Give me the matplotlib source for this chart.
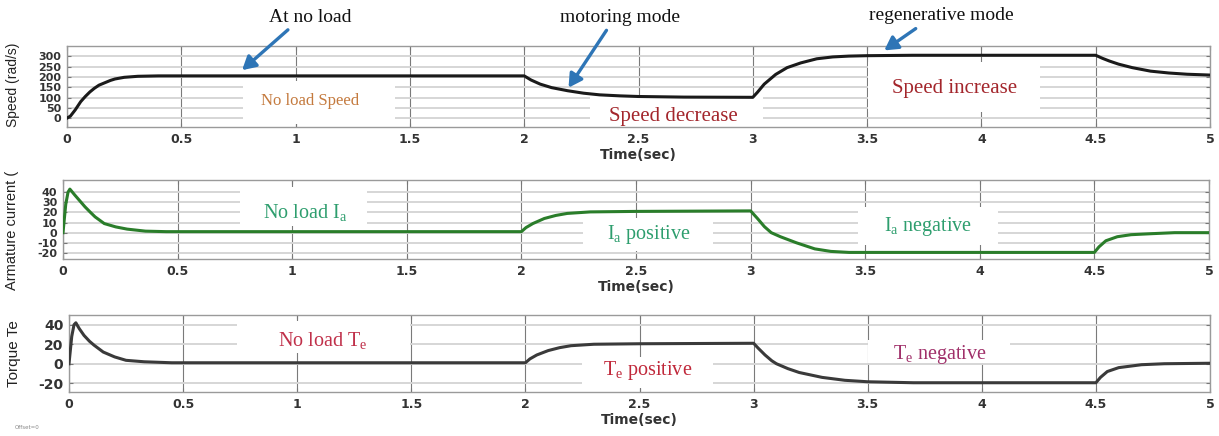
import matplotlib
matplotlib.use("Agg")
import matplotlib.pyplot as plt
from matplotlib.patches import Rectangle, FancyArrowPatch

plt.rcParams['mathtext.fontset'] = 'custom'
plt.rcParams['mathtext.rm'] = 'Liberation Serif'
plt.rcParams['mathtext.it'] = 'Liberation Serif:italic'
plt.rcParams['axes.unicode_minus'] = False

# ---------------- data ----------------
speed_t = [0, 0.015, 0.036, 0.06, 0.08, 0.1, 0.12, 0.14, 0.166, 0.19, 0.21, 0.25, 0.31, 0.4,
           2.0, 2.03, 2.07, 2.12, 2.19, 2.26, 2.33, 2.42, 2.5, 2.7, 3.0,
           3.02, 3.05, 3.1, 3.15, 3.21, 3.28, 3.35, 3.42, 3.5, 3.7, 4.5,
           4.53, 4.56, 4.6, 4.66, 4.74, 4.82, 4.9, 5.0]
speed_v = [0, 10, 40, 80, 105, 127, 145, 160, 172, 183, 190, 198, 203, 205,
           205, 185, 165, 148, 133, 121, 113, 108, 105, 102, 101,
           125, 165, 212, 245, 268, 288, 297, 301, 303, 305, 305,
           290, 277, 262, 245, 228, 219, 213, 209]

current_t = [0, 0.012, 0.022, 0.03, 0.052, 0.075, 0.096, 0.12, 0.14, 0.18, 0.23, 0.28, 0.36, 0.45,
             2.0, 2.02, 2.05, 2.1, 2.15, 2.2, 2.3, 2.5, 3.0,
             3.03, 3.06, 3.09, 3.13, 3.2, 3.28, 3.35, 3.43, 3.6, 4.5,
             4.52, 4.55, 4.6, 4.66, 4.75, 4.85, 5.0]
current_v = [0, 28, 40, 43, 37, 31, 25.5, 20, 15.6, 9, 5.7, 3.5, 1.5, 1,
             1, 5, 9, 14, 17, 19, 20.5, 21, 21.5,
             14, 6, 0, -4, -10, -16, -18.5, -19.5, -19.5, -19.5,
             -14, -8, -4, -2, -1, 0, 0]

torque_t = [0, 0.012, 0.022, 0.03, 0.045, 0.066, 0.09, 0.11, 0.15, 0.2, 0.25, 0.33, 0.45,
            2.0, 2.02, 2.05, 2.1, 2.15, 2.2, 2.3, 2.5, 3.0,
            3.02, 3.05, 3.08, 3.1, 3.15, 3.2, 3.3, 3.4, 3.5, 3.7, 4.5,
            4.52, 4.55, 4.6, 4.7, 4.8, 5.0]
torque_v = [0, 28, 40, 42, 36, 29, 23, 19, 12, 7, 3.5, 2, 1,
            1, 5, 9, 13.5, 16.5, 18.5, 20, 20.5, 21,
            16, 9, 3, 0, -5, -9, -14, -17, -18.5, -19.5, -19.5,
            -14, -8, -4, -1, 0, 0.5]

x_ticks = [0, 0.5, 1, 1.5, 2, 2.5, 3, 3.5, 4, 4.5, 5]
x_ticklabels = ['0', '0.5', '1', '1.5', '2', '2.5', '3', '3.5', '4', '4.5', '5']
speed_ticks = [0, 50, 100, 150, 200, 250, 300]
current_ticks = [-20, -10, 0, 10, 20, 30, 40]
torque_ticks = [-20, 0, 20, 40]

# ---------------- figure ----------------
W, H = 1219, 436
fig = plt.figure(figsize=(W / 100, H / 100), dpi=100)
fig.patch.set_facecolor('white')


def ax_at(left, right, top, bottom):
    return fig.add_axes([left / W, 1 - bottom / H, (right - left) / W, (bottom - top) / H])


def fig_box(ax, x0, y0, x1, y1):
    r = Rectangle((x0 / W, 1 - y1 / H), (x1 - x0) / W, (y1 - y0) / H,
                  transform=fig.transFigure, facecolor='white', edgecolor='none',
                  zorder=1, clip_on=False)
    ax.add_patch(r)


def fig_text(s, x, y, color, size=15):
    fig.text(x / W, 1 - y / H, s, ha='center', va='center', color=color,
             fontsize=size, family=['Liberation Serif', 'DejaVu Serif'], zorder=5)


def style(ax, ylim, yticks, ytick_size, ylabel, label_xy, label_size):
    ax.set_xlim(0, 5)
    ax.set_ylim(*ylim)
    ax.set_xticks(x_ticks)
    ax.set_xticklabels(x_ticklabels)
    ax.set_yticks(yticks)
    ax.set_axisbelow(True)
    ax.grid(axis='y', color='#d6d6d6', lw=1.4)
    ax.grid(axis='x', color='#7a7a7a', lw=0.8)
    for sp in ax.spines.values():
        sp.set_color('#9a9a9a')
        sp.set_linewidth(1.0)
    ax.tick_params(direction='in', length=3, width=0.8, color='#777777',
                   top=True, right=True, pad=4)
    for lab in ax.get_xticklabels():
        lab.set_fontsize(9)
        lab.set_fontweight('bold')
        lab.set_color('#333333')
    for lab in ax.get_yticklabels():
        lab.set_fontsize(ytick_size)
        lab.set_fontweight('bold')
        lab.set_color('#333333')
    ax.set_xlabel('Time(sec)', fontsize=10, fontweight='bold', color='#333333', labelpad=2)
    ax.set_ylabel(ylabel, fontsize=label_size, family='Liberation Sans', color='#222222')
    ax.yaxis.set_label_coords(*label_xy)


# Panel 1: speed
ax1 = ax_at(67, 1210, 46, 127)
style(ax1, (-43, 350), speed_ticks, 8, 'Speed (rad/s)', (-0.041, 0.52), 10)
ax1.plot(speed_t, speed_v, color='#1a1a1a', lw=2.2, zorder=3)
fig_box(ax1, 243, 81, 395, 124)
fig_box(ax1, 590, 95, 763, 127)
fig_box(ax1, 868, 62, 1040, 112)

# Panel 2: armature current
ax2 = ax_at(63, 1209, 180, 259)
style(ax2, (-26, 52), current_ticks, 8, 'Armature current (', (-0.038, 0.36), 10.5)
ax2.plot(current_t, current_v, color='#2a7d2a', lw=2.2, zorder=3)
fig_box(ax2, 240, 187, 367, 226)
fig_box(ax2, 583, 218, 713, 251)
fig_box(ax2, 858, 207, 998, 245)

# Panel 3: torque
ax3 = ax_at(69, 1210, 315, 392)
style(ax3, (-29, 50), torque_ticks, 10, 'Torque Te', (-0.042, 0.5), 11)
ax3.plot(torque_t, torque_v, color='#3a3a3a', lw=2.2, zorder=3)
fig_box(ax3, 237, 321, 410, 353)
fig_box(ax3, 582, 357, 713, 388)
fig_box(ax3, 868, 340, 1010, 363)

# Region texts
fig_text('No load Speed', 310, 101, '#c47a3e', 12)
fig_text('Speed decrease', 673, 116, '#a3262c', 15)
fig_text('Speed increase', 955, 88, '#a3262c', 15)
fig_text(r'No load I$_\mathrm{a}$', 305, 212, '#2e9e6e', 14.5)
fig_text(r'I$_\mathrm{a}$ positive', 649, 234, '#2e9e6e', 14.5)
fig_text(r'I$_\mathrm{a}$ negative', 928, 226, '#2e9e6e', 14.5)
fig_text(r'No load T$_\mathrm{e}$', 323, 340, '#c0304a', 14.5)
fig_text(r'T$_\mathrm{e}$ positive', 648, 371, '#c0283a', 14.5)
fig_text(r'T$_\mathrm{e}$ negative', 940, 354, '#a0306a', 14.5)

# Mode annotations with arrows
arrow_color = '#2e75b6'
notes = [('At no load', (310, 17), (290, 28), (240, 72)),
         ('motoring mode', (620, 17), (608, 28), (567, 90)),
         ('regenerative mode', (941, 15), (918, 27), (882, 52))]
for label, (tx, ty), (sx, sy), (ex, ey) in notes:
    fig.text(tx / W, 1 - ty / H, label, ha='center', va='center', fontsize=14,
             family='Liberation Serif', color='#111111')
    fig.patches.append(FancyArrowPatch(
        (sx / W, 1 - sy / H), (ex / W, 1 - ey / H), transform=fig.transFigure,
        arrowstyle='-|>,head_length=8,head_width=4.5', color=arrow_color,
        lw=2.4, zorder=6))

fig.text(15 / W, 1 - 427 / H, 'Offset=0', fontsize=4, color='#888888', ha='left', va='center')

fig.savefig('out.png', dpi=100, facecolor='white')
